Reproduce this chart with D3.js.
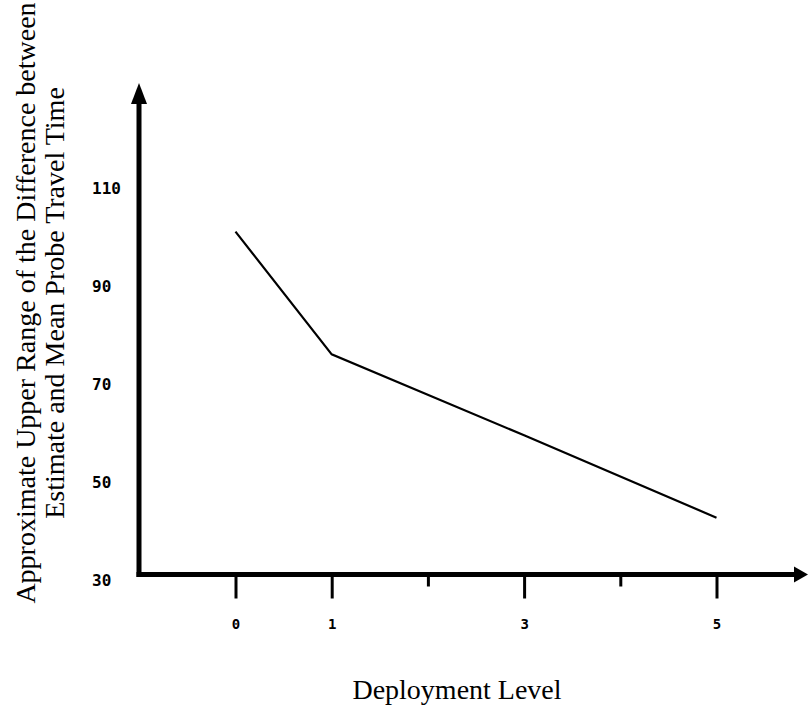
<!DOCTYPE html>
<html>
<head>
<meta charset="utf-8">
<script src="https://cdn.jsdelivr.net/npm/d3@7"></script>
<style>
  body { margin: 0; background: #fff; }
  svg { display: block; }
</style>
</head>
<body>
<div id="chart"></div>
<script>
var width = 808;
var height = 709;

// data
var levels = [0, 1, 3, 5];
var upperRange = [101, 76, 59.5, 42.7];
var xTicks = [0, 1, 2, 3, 4, 5];
var xTickLabels = ["0", "1", "", "3", "", "5"];
var yTicks = [30, 50, 70, 90, 110];
var yLabelLines = ["Approximate Upper Range of the Difference between",
                   "Estimate and Mean Probe Travel Time"];
var xLabel = "Deployment Level";

function createSVG(width, height) {
  return d3.select("#chart")
    .append("svg")
    .attr("width", width)
    .attr("height", height);
}

function main() {
  var svg = createSVG(width, height);

  var x = d3.scaleLinear().domain([0, 5]).range([235.5, 716.5]);
  var y = d3.scaleLinear().domain([30, 110]).range([580, 187.5]);

  var originX = 139, originY = 574.5;

  // x axis ticks and labels
  var xAxis = svg.append("g")
    .attr("transform", "translate(0," + originY + ")")
    .call(d3.axisBottom(x)
      .tickValues(xTicks)
      .tickSize(24)
      .tickPadding(21)
      .tickFormat(function(d, i) { return xTickLabels[i]; }));
  xAxis.select(".domain").remove();
  xAxis.selectAll(".tick line")
    .attr("stroke", "#000")
    .attr("stroke-width", 3)
    .attr("y2", function(d) { return xTickLabels[xTicks.indexOf(d)] ? 24 : 12; });
  xAxis.selectAll(".tick text")
    .attr("fill", "#000")
    .style("font-family", "'DejaVu Sans Mono', monospace")
    .style("font-weight", "bold")
    .style("font-size", "14px");

  // y axis labels (left aligned, no tick marks)
  var yAxis = svg.append("g")
    .attr("transform", "translate(92,0)")
    .call(d3.axisLeft(y).tickValues(yTicks).tickSize(0).tickPadding(0));
  yAxis.select(".domain").remove();
  yAxis.selectAll(".tick text")
    .attr("text-anchor", "start")
    .attr("x", 0)
    .attr("dy", "0.36em")
    .attr("fill", "#000")
    .style("font-family", "'DejaVu Sans Mono', monospace")
    .style("font-weight", "bold")
    .style("font-size", "16px");

  // axis lines with arrow heads
  svg.append("line")
    .attr("x1", originX).attr("y1", originY + 2.5)
    .attr("x2", originX).attr("y2", 100)
    .attr("stroke", "#000").attr("stroke-width", 5);
  svg.append("path")
    .attr("d", "M" + originX + ",83 L" + (originX - 8) + ",104 L" + (originX + 8) + ",104 Z")
    .attr("fill", "#000");

  svg.append("line")
    .attr("x1", originX - 2.5).attr("y1", originY)
    .attr("x2", 796).attr("y2", originY)
    .attr("stroke", "#000").attr("stroke-width", 5);
  svg.append("path")
    .attr("d", "M808," + originY + " L794," + (originY - 8) + " L794," + (originY + 8) + " Z")
    .attr("fill", "#000");

  // data line
  var line = d3.line()
    .x(function(d, i) { return x(levels[i]); })
    .y(function(d) { return y(d); });

  svg.append("path")
    .datum(upperRange)
    .attr("d", line)
    .attr("fill", "none")
    .attr("stroke", "#000")
    .attr("stroke-width", 2.2);

  // axis titles
  svg.append("text")
    .attr("transform", "translate(35,303) rotate(-90)")
    .attr("text-anchor", "middle")
    .style("font-family", "'Liberation Serif', 'Times New Roman', serif")
    .style("font-size", "28px")
    .selectAll("tspan")
    .data(yLabelLines)
    .enter()
    .append("tspan")
    .attr("x", 0)
    .attr("y", function(d, i) { return i * 29; })
    .text(function(d) { return d; });

  svg.append("text")
    .attr("x", 457)
    .attr("y", 699)
    .attr("text-anchor", "middle")
    .style("font-family", "'Liberation Serif', 'Times New Roman', serif")
    .style("font-size", "28px")
    .text(xLabel);
}

window.onload = function() {
  main();
};
</script>
</body>
</html>
